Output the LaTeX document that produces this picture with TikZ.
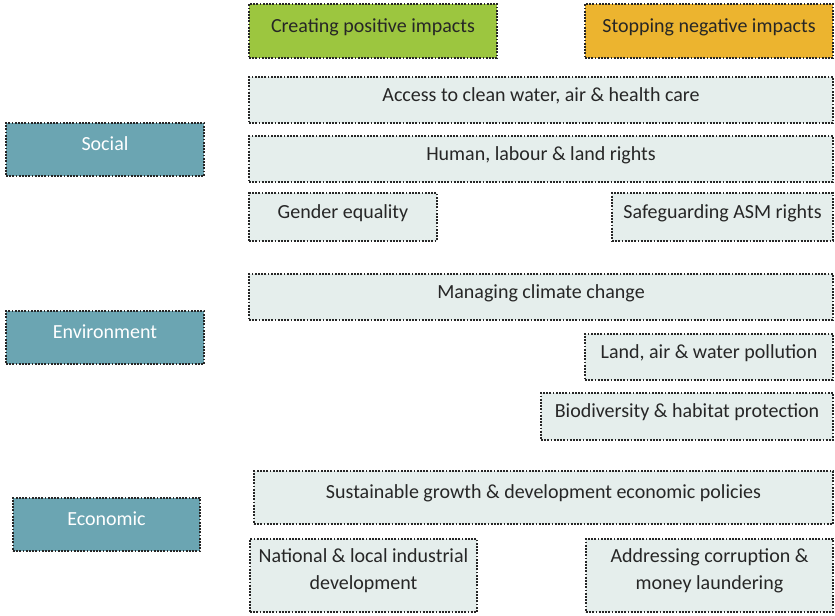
\documentclass[tikz,border=0pt]{standalone}
\usepackage{fontspec}
\setmainfont{Carlito}
\definecolor{dotline}{HTML}{262626}
\definecolor{ink}{HTML}{262626}
\definecolor{pale}{HTML}{E5EEEC}
\definecolor{leaf}{HTML}{9CC63F}
\definecolor{amber}{HTML}{ECB42F}
\definecolor{teal}{HTML}{6BA5B2}
\tikzset{
  item/.style={draw=dotline, line width=1.4pt, dash pattern=on 1.3pt off 1.1pt,
    fill=pale, text=ink, font=\fontsize{15}{20}\selectfont,
    text height=9pt, text depth=7pt, inner sep=0pt, align=center},
  pillar/.style={item, fill=teal, text=white},
  twoline/.style={text height=23pt, text depth=2pt},
  size/.style 2 args={minimum width=#1*0.75pt, minimum height=#2*0.75pt}
}
\begin{document}
\begin{tikzpicture}[x=0.75pt,y=-0.75pt]
\useasboundingbox (0,0) rectangle (835,616);

\node[item,fill=leaf,size={248}{54}] (positive) at (373,31) {Creating positive impacts};
\node[item,fill=amber,size={248}{54}] (negative) at (709,31) {Stopping negative impacts};

% social
\node[pillar,size={198}{53}] (social) at (105,149.5) {Social};
\node[item,size={584}{46}] (water) at (541,100) {Access to clean water, air \& health care};
\node[item,size={584}{46}] (rights) at (541,159) {Human, labour \& land rights};
\node[item,size={188}{48}] (gender) at (343,217) {Gender equality};
\node[item,size={221}{48}] (asm) at (722.5,217) {Safeguarding ASM rights};

% environment
\node[pillar,size={198}{53}] (environment) at (105,337.5) {Environment};
\node[item,size={584}{46}] (climate) at (541,297) {Managing climate change};
\node[item,size={248}{46}] (pollution) at (709,357) {Land, air \& water pollution};
\node[item,size={292}{47}] (habitat) at (687,416.5) {Biodiversity \& habitat protection};

% economic
\node[pillar,size={187}{53}] (economic) at (106.5,524.5) {Economic};
\node[item,size={579}{53}] (growth) at (543.5,497.5) {Sustainable growth \& development economic policies};
\node[item,twoline,size={227}{73}] (industry) at (363.5,575.5) {National \& local industrial\\development};
\node[item,twoline,size={247}{73}] (corruption) at (709.5,575.5) {Addressing corruption \&\\money laundering};
\end{tikzpicture}
\end{document}
